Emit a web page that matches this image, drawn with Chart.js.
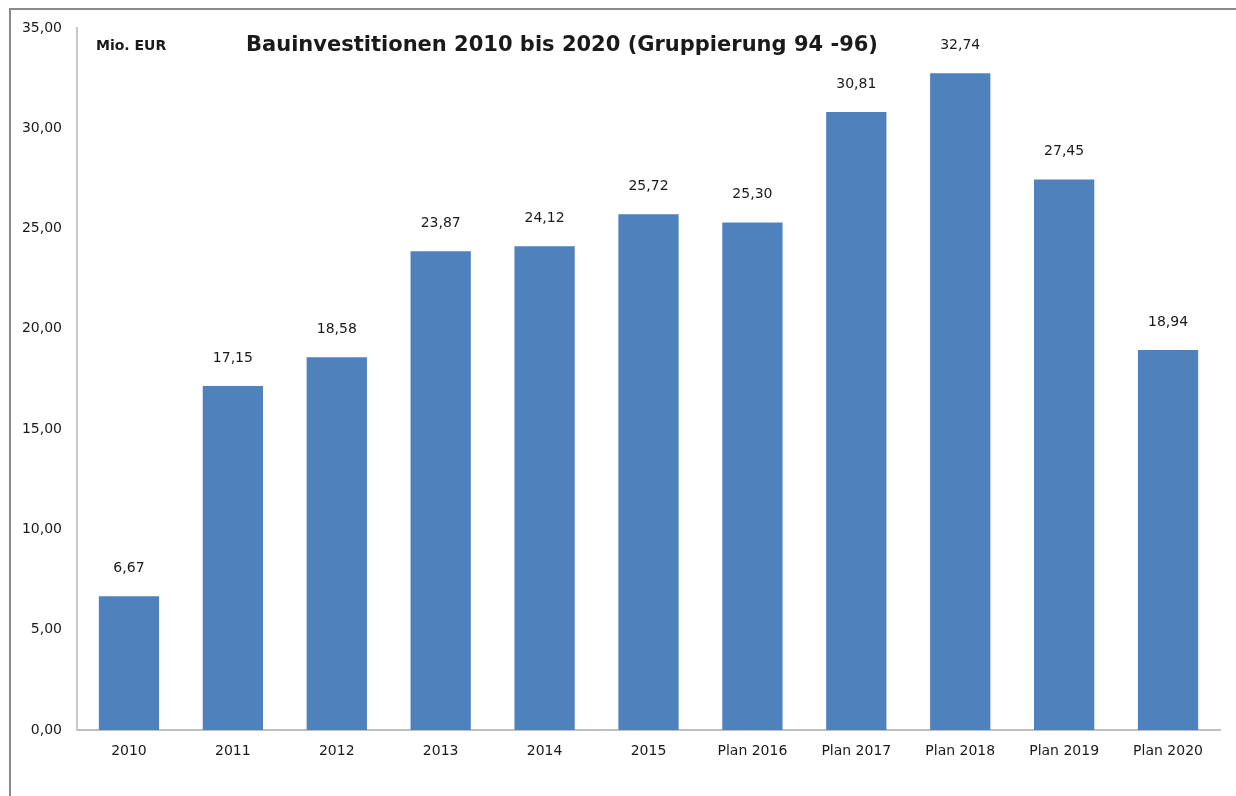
<!DOCTYPE html>
<html>
<head>
<meta charset="utf-8">
<script src="https://cdn.jsdelivr.net/npm/chart.js@4/dist/chart.umd.min.js"></script>
<style>
  html, body { margin: 0; padding: 0; background: #fff; overflow: hidden; }
  #frame { position: absolute; left: 9px; top: 8px; width: 1400px; height: 1000px;
           border-left: 2px solid #8a8a8a; border-top: 2px solid #8a8a8a; }
  #wrap { position: absolute; left: 0; top: 0; width: 1236px; height: 796px; }
</style>
</head>
<body>
<div id="frame"></div>
<div id="wrap"><canvas id="chart" width="1236" height="796"></canvas></div>
<script>
// DATA
var years = ['2010', '2011', '2012', '2013', '2014', '2015',
    'Plan 2016', 'Plan 2017', 'Plan 2018', 'Plan 2019', 'Plan 2020'];
var invest = [6.67, 17.15, 18.58, 23.87, 24.12, 25.72, 25.30, 30.81, 32.74, 27.45, 18.94];

var yMin = 0;
var yMax = 35;
var yStep = 5;

var titleText = 'Bauinvestitionen 2010 bis 2020 (Gruppierung 94 -96)';
var unitText = 'Mio. EUR';

var fontFamily = '"DejaVu Sans", sans-serif';

function deNum(v) {
    return v.toFixed(2).replace('.', ',');
}

// labels above bars + title texts
var labelPlugin = {
    id: 'labels',
    afterDatasetsDraw: function (chart) {
        var ctx = chart.ctx;
        var meta = chart.getDatasetMeta(0);
        ctx.save();
        ctx.fillStyle = '#1a1a1a';
        ctx.textAlign = 'center';
        ctx.textBaseline = 'middle';
        ctx.font = '14px ' + fontFamily;
        meta.data.forEach(function (bar, i) {
            ctx.fillText(deNum(invest[i]), bar.x, bar.y - 28);
        });
        ctx.font = 'bold 14px ' + fontFamily;
        ctx.textAlign = 'left';
        ctx.fillText(unitText, 96, 46);
        ctx.font = 'bold 21px ' + fontFamily;
        ctx.textAlign = 'center';
        ctx.fillText(titleText, 562, 46);
        ctx.restore();
    }
};

var ctx = document.getElementById('chart');

var bauChart = new Chart(ctx, {
    type: 'bar',
    data: {
        labels: years,
        datasets: [{
            data: invest,
            backgroundColor: '#4f81bd',
            borderWidth: 0,
            barPercentage: 0.58,
            categoryPercentage: 1.0
        }]
    },
    options: {
        responsive: false,
        animation: false,
        devicePixelRatio: 1,
        layout: { padding: { left: 0, right: 16, top: 28, bottom: 0 } },
        plugins: {
            legend: { display: false },
            tooltip: { enabled: false }
        },
        scales: {
            x: {
                grid: { display: false, drawTicks: false },
                border: { color: '#bfbfbf', width: 2 },
                ticks: {
                    color: '#1a1a1a',
                    font: { family: fontFamily, size: 14 },
                    padding: 13,
                    maxRotation: 0,
                    autoSkip: false
                },
                afterFit: function (scale) { scale.height = 66; }
            },
            y: {
                min: yMin,
                max: yMax,
                grid: { display: false, drawTicks: false },
                border: { color: '#c8c8c8', width: 2 },
                ticks: {
                    stepSize: yStep,
                    color: '#1a1a1a',
                    font: { family: fontFamily, size: 14 },
                    padding: 15,
                    callback: function (v) { return deNum(v); }
                },
                afterFit: function (scale) { scale.width = 77; }
            }
        }
    },
    plugins: [labelPlugin]
});
</script>
</body>
</html>
